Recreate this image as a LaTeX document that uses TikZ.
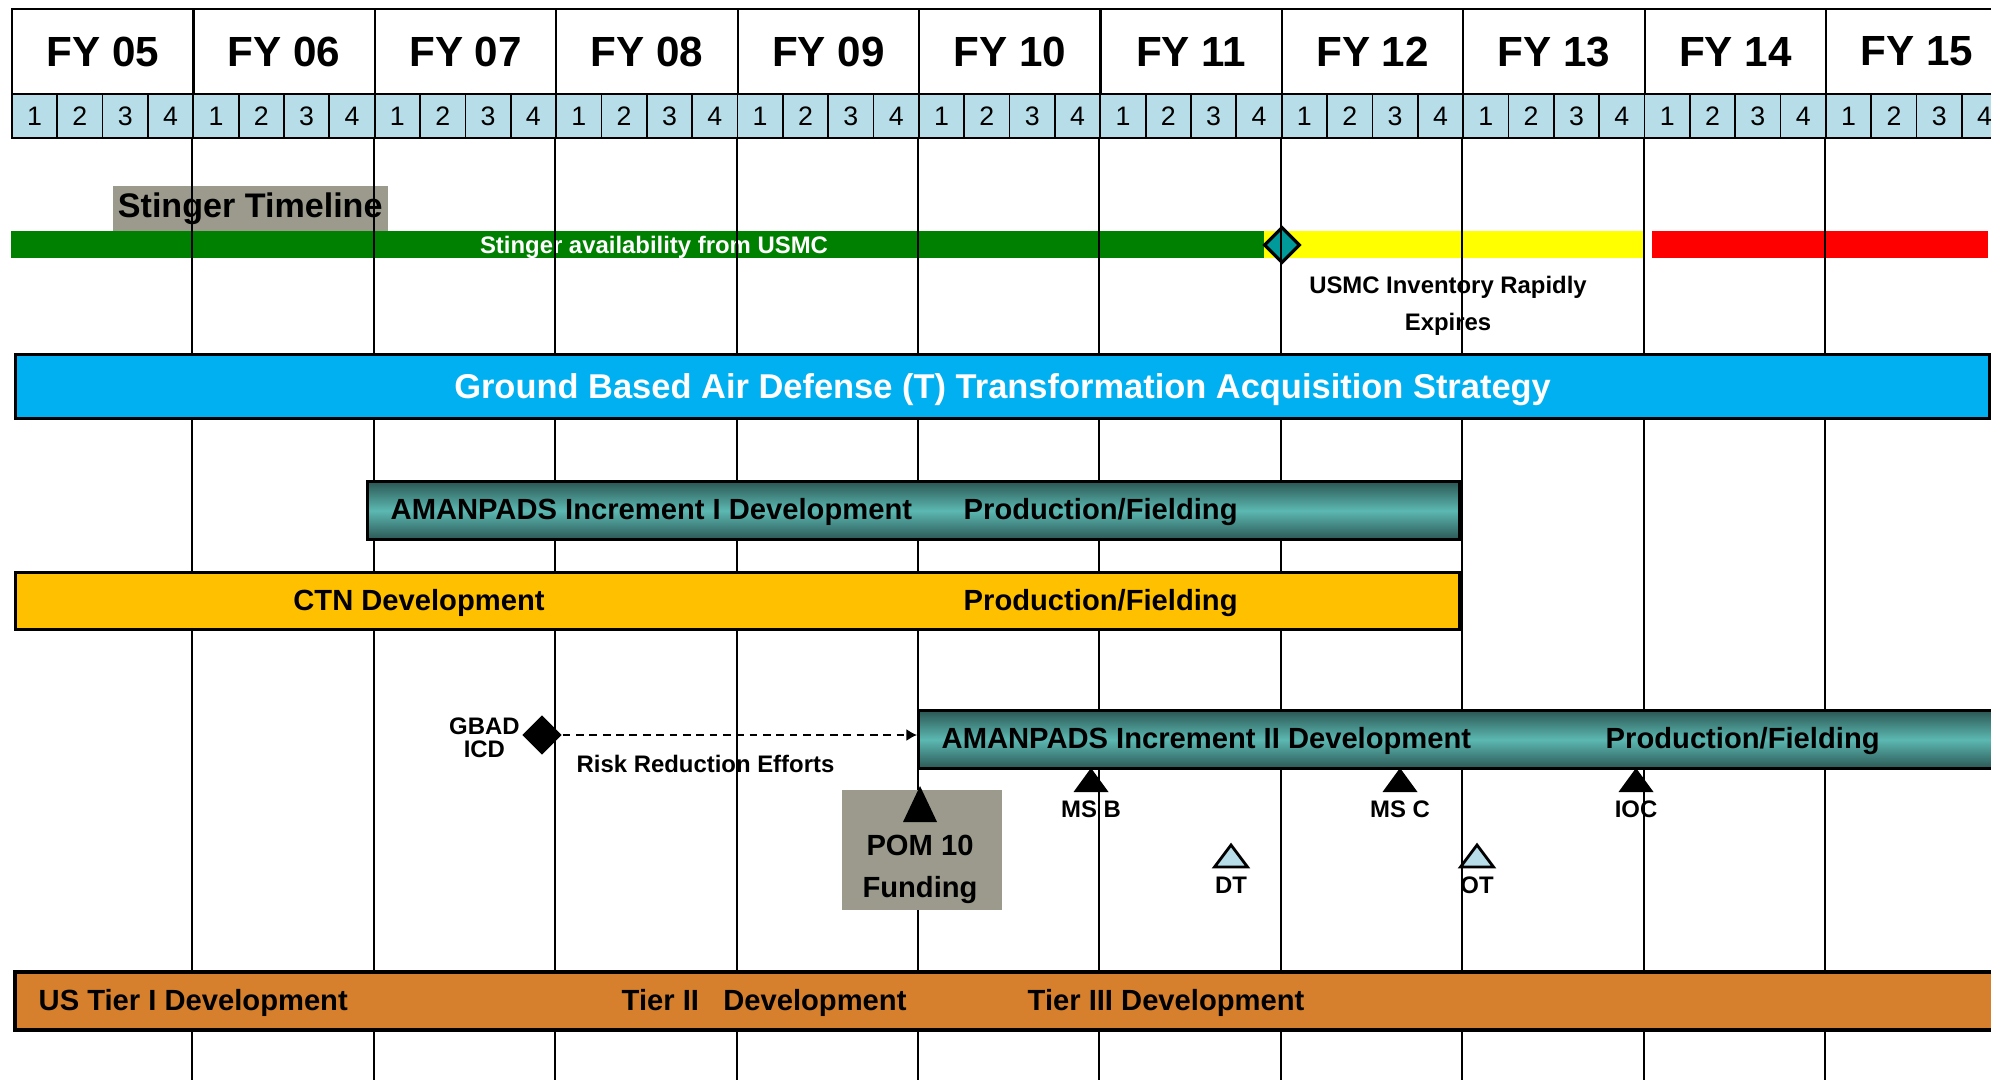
\documentclass[tikz,border=0pt]{standalone}
\usepackage{fontspec}
\setmainfont{Liberation Sans}
\usepackage{tikz}
\usetikzlibrary{shapes.geometric,arrows.meta,positioning}
\definecolor{qtrBlue}{HTML}{B7DEE8}
\definecolor{stingGreen}{HTML}{008000}
\definecolor{stingYellow}{HTML}{FFFF00}
\definecolor{stingRed}{HTML}{FF0000}
\definecolor{gbadBlue}{HTML}{00B0F0}
\definecolor{ctnGold}{HTML}{FFC000}
\definecolor{tierOrange}{HTML}{D6802E}
\definecolor{tealDark}{HTML}{2B5754}
\definecolor{tealLight}{HTML}{5CB8B2}
\definecolor{tealDiamond}{HTML}{009A9A}
\definecolor{boxGray}{HTML}{9B9A8D}
\tikzset{
  yrline/.style={line width=0.6pt},
  cell/.style={draw, line width=0.5pt, anchor=north west, inner sep=0pt},
  fy/.style={font=\bfseries\fontsize{12}{14}\selectfont},
  qtr/.style={font=\fontsize{7.6}{9}\selectfont},
  bar/.style={draw, line width=0.9pt, anchor=north west, inner sep=0pt},
  tealbar/.style={bar, top color=tealDark, bottom color=tealDark, middle color=tealLight},
  graybox/.style={fill=boxGray, anchor=north west, inner sep=0pt},
  big/.style={font=\bfseries\fontsize{8.3}{12}\selectfont, inner sep=0pt, yshift=-0.9pt},
  sm/.style={font=\bfseries\fontsize{6.8}{10.5}\selectfont, inner sep=0pt},
  testmark/.style={fill=qtrBlue, draw, line width=0.8pt},
}

\begin{document}
\begin{tikzpicture}[x=0.1mm, y=-0.1mm]
  \useasboundingbox (0,0) rectangle (1991,1079);
  \clip (0,0) rectangle (1991,1079);
  % header: fiscal years and quarters
  \foreach \yr [count=\k from 0] in {05,06,07,08,09,10,11,12,13,14,15} {
    \pgfmathsetmacro{\xa}{11+181.4*\k}
    \node[fy, cell, line width=0.6pt, minimum width=18.14mm, minimum height=8.5mm] (fy\yr) at (\xa,8) {FY \yr};
    \foreach \q in {1,...,4}
      \node[qtr, cell, fill=qtrBlue, minimum width=4.535mm, minimum height=4.4mm] (q\yr\q) at ({\xa+45.35*(\q-1)},93) {\q};
  }
  % stinger timeline
  \node[graybox, font=\bfseries\fontsize{9.7}{11}\selectfont, minimum width=27.5mm, minimum height=4.6mm] (stlbl) at (112,185) {Stinger Timeline};
  \fill[stingGreen] (11,231) rectangle (1264,258);
  \fill[stingYellow] (1264,231) rectangle (1645,258);
  \fill[stingRed] (1652,231) rectangle (1988,258);
  \node[diamond, draw, line width=0.9pt, fill=tealDiamond, minimum size=3.6mm, inner sep=0pt] (usmc) at (1282,245) {};
  \node[sm, text=white] (avail) at (654,247) {Stinger availability from USMC};
  \node[sm, align=center] (expire) at (1448,306) {USMC Inventory Rapidly\\Expires};
  % year lines
  \foreach \yr in {06,07,08,09,10,11,12,13,14,15}
    \draw[yrline] (q\yr1.south west) -- ++(0,950);
  % programme bars
  \node[bar, fill=gbadBlue, minimum width=197.4mm, minimum height=6.4mm] (gbad) at (14,353) {};
  \node[text=white, font=\bfseries\fontsize{9.8}{11}\selectfont, yshift=-0.9pt] at (gbad.center) {Ground Based Air Defense (T) Transformation Acquisition Strategy};
  \node[tealbar, minimum width=109.2mm, minimum height=5.8mm] (inc1) at (366,480) {};
  \node[big, anchor=west] at (390,509) {AMANPADS Increment I Development};
  \node[big, anchor=west] at (963,509) {Production/Fielding};
  \node[bar, fill=ctnGold, minimum width=144.4mm, minimum height=5.7mm] (ctn) at (14,571) {};
  \node[big] at (419,600) {CTN Development};
  \node[big, anchor=west] at (963,600) {Production/Fielding};
  \node[tealbar, minimum width=108.3mm, minimum height=5.8mm] (inc2) at (917,709) {};
  \node[big, anchor=west] at (941,738) {AMANPADS Increment II Development};
  \node[big, anchor=west] at (1605,738) {Production/Fielding};
  % ICD and risk reduction
  \node[diamond, fill=black, minimum size=4mm, inner sep=0pt] (icd) at (542,735) {};
  \node[sm, align=center, font=\bfseries\fontsize{6.8}{6.6}\selectfont, left=0.1mm of icd, yshift=-0.9pt] (icdlbl) {GBAD\\ICD};
  \draw[-{Latex[length=3pt,width=3.4pt]}, line width=0.5pt, dash pattern=on 2.2pt off 1.6pt] (icd.east) -- (icd.east -| inc2.west);
  \node[sm, anchor=west] (risk) at (576,764) {Risk Reduction Efforts};
  % POM funding
  \node[graybox, minimum width=16mm, minimum height=12mm] (pom) at (841,789) {};
  \fill (920,786) -- (937,822) -- (903,822) -- cycle;
  \node[big, align=center] (pomlbl) at (920,866) {POM 10\\Funding};
  % milestones and tests
  \foreach \x/\t/\n in {1091/MS B/msb, 1400/MS C/msc, 1636/IOC/ioc} {
    \fill (\x,768) -- ++(17.5,24) -- ++(-35,0) -- cycle;
    \node[sm] (\n) at (\x,809) {\t};
  }
  \foreach \x/\t in {1231/DT, 1477/OT} {
    \filldraw[testmark] (\x,845) -- ++(16.5,22) -- ++(-33,0) -- cycle;
    \node[sm] (\t) at (\x,885) {\t};
  }
  % tiers
  \node[bar, fill=tierOrange, line width=1.1pt, minimum width=198.8mm, minimum height=5.8mm] (tier) at (13,970) {};
  \node[big, anchor=west] at (38,1000) {US Tier I Development};
  \node[big, anchor=west] at (621,1000) {Tier II\ \ \ Development};
  \node[big, anchor=west] at (1027,1000) {Tier III Development};
\end{tikzpicture}
\end{document}
